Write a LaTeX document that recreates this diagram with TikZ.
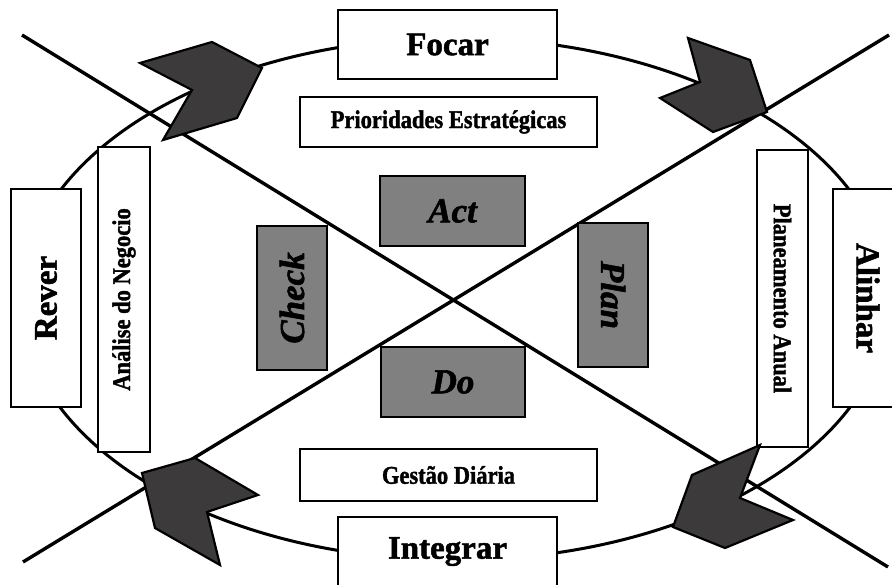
\documentclass[tikz,border=0pt]{standalone}
\usepackage{graphicx}
\usepackage{fontspec}
\setmainfont{Liberation Serif}[
  BoldFeatures={FakeBold=1.6},
  BoldItalicFeatures={FakeBold=1.6}]
\definecolor{chevfill}{RGB}{60,58,58}
\definecolor{phasegray}{RGB}{128,128,128}
% slightly taller lettering for the small labels
\newcommand{\tallword}[1]{\scalebox{1}[1.13]{#1}}
\begin{document}
\begin{tikzpicture}[x=1pt,y=-1pt,
  box/.style={draw=black,line width=1.8pt,fill=white,inner sep=0pt},
  big/.style={box,font=\bfseries\fontsize{33}{38}\selectfont},
  small/.style={box,font=\bfseries\fontsize{22.5}{26}\selectfont},
  phase/.style={box,fill=phasegray,font=\bfseries\itshape\fontsize{35}{40}\selectfont},
  chev/.style={draw=black,line width=2.2pt,fill=chevfill,line join=miter},
  ring/.style={draw=black,line width=3pt},
  cross/.style={draw=black,line width=3.4pt}]
\clip (0,0) rectangle (892,585);

% outer cycle
\draw[ring] (455,299) ellipse [x radius=434pt, y radius=261pt];

% the two diagonals
\coordinate (d1a) at (22,35);
\coordinate (d1b) at (888,567);
\coordinate (d2a) at (23,562);
\coordinate (d2b) at (889,35);
\draw[cross] (d1a) -- (d1b);
\draw[cross] (d2a) -- (d2b);

% outer stages
\node[big, minimum width=219pt, minimum height=69pt] (focar) at (447.5,44.5) {Focar};
\node[big, minimum width=219pt, minimum height=69pt] (integrar) at (447.5,551.5) {Integrar};
\node[big, rotate=90, minimum width=218pt, minimum height=70pt] (rever) at (46,298) {Rever};
\node[big, rotate=-90, minimum width=218pt, minimum height=70pt] (alinhar) at (868,298) {Alinhar};

% inner labels
\node[small, minimum width=297pt, minimum height=50pt] (prior) at (448.5,122) {\tallword{Prioridades Estratégicas}};
\node[small, minimum width=297pt, minimum height=52pt] (gestao) at (448.5,475) {\tallword{Gestão Diária}};
\node[small, rotate=90, minimum width=305pt, minimum height=52pt] (analise) at (124,299.5) {\tallword{Análise do Negocio}};
\node[small, rotate=-90, minimum width=297pt, minimum height=51pt] (planeam) at (782.5,298.5) {\tallword{Planeamento Anual}};

% PDCA boxes
\node[phase, minimum width=145pt, minimum height=70pt] (act) at (452.5,211) {Act};
\node[phase, minimum width=144pt, minimum height=70pt] (do) at (453,382) {Do};
\node[phase, rotate=90, minimum width=144pt, minimum height=70pt] (check) at (292,298) {Check};
\node[phase, rotate=-90, minimum width=144pt, minimum height=70pt] (plan) at (613,295) {Plan};

% chevrons along the cycle
\draw[chev] (140,63) -- (212,42) -- (262,68) -- (237,118) -- (163,140) -- (192,90) -- cycle;
\draw[chev] (688,38) -- (750,60) -- (767,112) -- (713,132) -- (660,98) -- (700,82) -- cycle;
\draw[chev] (760,445) -- (740,498) -- (793,520) -- (725,548) -- (673,527) -- (692,475) -- cycle;
\draw[chev] (142,473) -- (195,458) -- (258,495) -- (207,512) -- (220,565) -- (155,528) -- cycle;
\end{tikzpicture}
\end{document}
